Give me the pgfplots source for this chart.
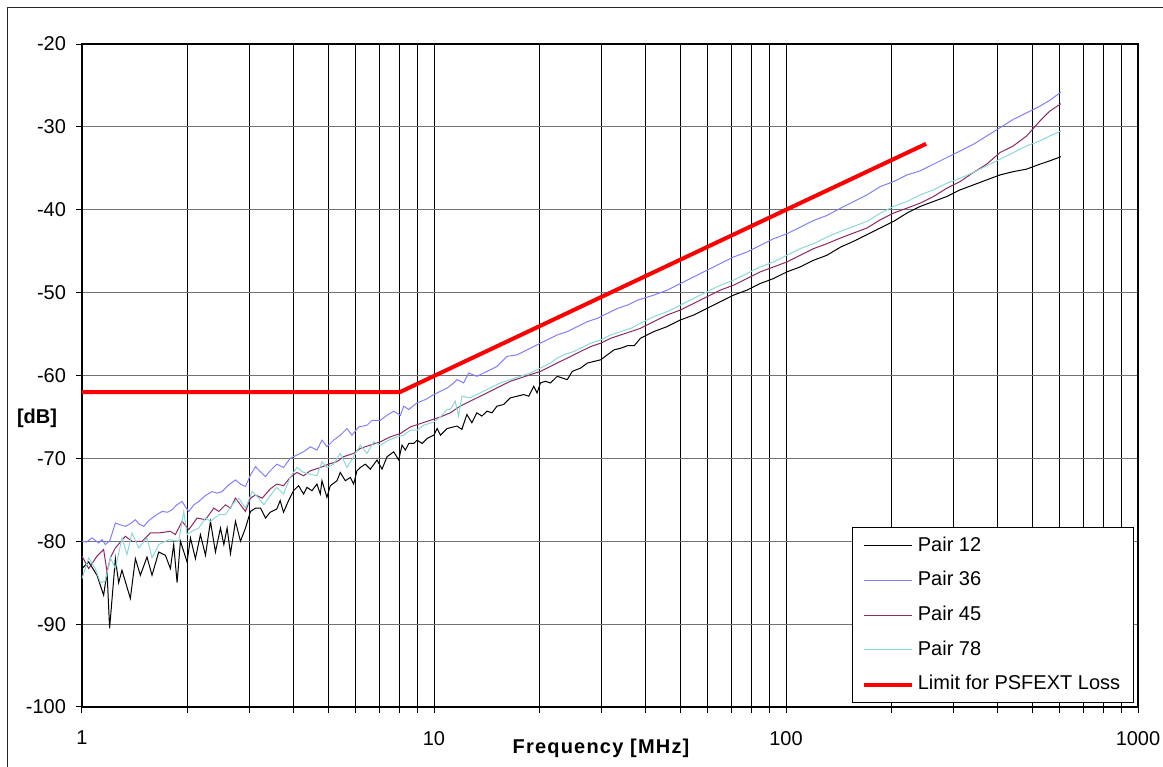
\documentclass[border=0pt]{standalone}
\usepackage{fontspec}
\setmainfont{Liberation Sans}
\newfontfamily\spacedbold[LetterSpace=6,BoldFont={Liberation Sans Bold}]{Liberation Sans}
\usepackage{pgfplots}
\pgfplotsset{compat=1.18}
\definecolor{c12}{RGB}{0,0,0}
\definecolor{c36}{RGB}{128,128,255}
\definecolor{c45}{RGB}{140,40,100}
\definecolor{c78}{RGB}{140,215,215}
\definecolor{climit}{RGB}{255,0,0}
\begin{document}
\begin{tikzpicture}
\begin{axis}[
  at={(0,0)}, anchor=south west,
  scale only axis, width=792pt, height=497.25pt,
  xmode=log, xmin=1, xmax=1000, ymin=-100, ymax=-20,
  xtick={1,10,100,1000}, xticklabels={1,10,100,1000},
  ytick={-100,-90,...,-20},
  /pgf/number format/assume math mode=true,
  font=\fontsize{15}{18}\selectfont,
  tick label style={font=\fontsize{15}{18}\selectfont},
  xticklabel style={yshift=-10pt},
  yticklabel style={xshift=-4pt},
  tick align=outside, tick pos=left,
  major tick length=4.5pt, minor tick length=4.5pt,
  every tick/.style={black, line width=0.75pt},
  axis line style={black, line width=0.9pt},
  xmajorgrids, xminorgrids, ymajorgrids,
  grid style={line width=0.75pt},
  x grid style={black},
  y grid style={black!55},
  xlabel={\spacedbold\bfseries Frequency [MHz]},
  xlabel style={at={(axis description cs:0.4915,-0.0625)}, anchor=center},
  ylabel={\bfseries [dB]},
  ylabel style={rotate=-90, at={(axis description cs:-0.0426,0.436)}, anchor=center},
  legend cell align=left,
  legend image code/.code={\draw[#1] (0pt,0pt) -- (36pt,0pt);},
  legend style={at={(rel axis cs:0.9962,0.006)}, anchor=south east,
    draw=black, line width=0.75pt, fill=white,
    font=\fontsize{15}{18}\selectfont,
    row sep=6pt, inner xsep=7pt, inner ysep=3.5pt,
    nodes={inner sep=3pt, text height=11pt, text depth=3pt}},
]
% Pair 12
\addplot[c12, line width=0.75pt] table {
1.000 -83.3
1.045 -82.5
1.103 -84.1
1.152 -86.5
1.178 -83.7
1.198 -90.5
1.244 -82.1
1.271 -85.0
1.299 -83.5
1.372 -86.9
1.418 -82.1
1.465 -84.1
1.530 -81.9
1.581 -84.1
1.652 -81.3
1.726 -81.7
1.783 -83.3
1.822 -80.4
1.863 -85.0
1.904 -80.0
1.989 -82.5
2.033 -79.6
2.100 -82.1
2.170 -79.2
2.243 -81.7
2.317 -77.6
2.394 -81.3
2.474 -78.4
2.529 -80.4
2.584 -78.4
2.641 -81.5
2.729 -77.6
2.820 -80.0
2.914 -78.4
3.011 -76.4
3.112 -76.0
3.215 -76.0
3.322 -77.2
3.424 -76.5
3.577 -76.1
3.656 -75.1
3.737 -76.5
3.862 -75.1
3.990 -73.9
4.124 -73.3
4.261 -74.3
4.355 -73.5
4.500 -73.9
4.650 -73.1
4.753 -74.3
4.805 -72.7
4.965 -74.7
5.074 -73.3
5.300 -72.7
5.417 -71.7
5.598 -72.7
5.784 -72.3
5.912 -73.1
6.042 -71.5
6.176 -71.1
6.382 -70.7
6.594 -71.3
6.889 -70.2
7.118 -71.3
7.356 -69.8
7.684 -69.2
7.940 -70.2
8.114 -68.4
8.293 -69.0
8.477 -68.2
8.759 -68.2
8.953 -67.8
9.251 -68.2
9.559 -67.6
9.986 -67.2
10.206 -66.4
10.432 -67.2
10.897 -66.4
11.125 -66.3
11.62 -66.1
12.00 -66.5
12.40 -64.7
12.81 -65.7
13.24 -64.5
13.68 -64.9
14.14 -64.3
14.61 -64.5
15.10 -63.7
15.77 -63.5
16.47 -62.7
17.22 -62.5
17.99 -62.3
18.59 -62.5
19.21 -61.3
19.63 -62.1
20.06 -60.9
20.73 -60.7
21.42 -60.9
22.39 -60.1
23.13 -60.3
23.91 -60.5
24.71 -59.5
26.10 -59.1
27.27 -58.5
28.49 -58.3
29.77 -58.1
31.10 -57.5
32.50 -56.9
33.96 -56.7
35.48 -56.4
37.08 -56.4
38.61 -55.5
42.12 -54.7
45.95 -54.1
50.12 -53.3
54.68 -52.7
59.65 -51.9
65.07 -51.1
70.99 -50.3
77.44 -49.7
84.48 -48.9
92.16 -48.3
100.54 -47.5
109.68 -46.9
119.65 -46.1
130.53 -45.5
143.0 -44.5
155.8 -43.8
170.0 -43.0
185.4 -42.2
202.2 -41.4
220.6 -40.4
240.6 -39.6
262.5 -39.0
286.3 -38.4
312.4 -37.6
340.7 -37.0
371.7 -36.4
405.4 -35.8
442.3 -35.4
482.5 -35.1
526.3 -34.5
561.4 -34.1
604.0 -33.6
};
\addlegendentry{Pair 12}
% Pair 36
\addplot[c36, line width=0.75pt] table {
1.000 -80.0
1.030 -80.1
1.068 -79.6
1.090 -79.9
1.116 -80.2
1.140 -79.8
1.165 -80.4
1.200 -79.9
1.244 -77.8
1.280 -78.0
1.328 -78.2
1.370 -77.9
1.418 -77.4
1.450 -77.9
1.498 -78.2
1.540 -77.6
1.581 -77.2
1.630 -76.8
1.689 -76.4
1.750 -76.5
1.803 -76.2
1.860 -75.6
1.925 -75.2
1.970 -75.9
2.011 -76.4
2.080 -75.6
2.147 -75.2
2.240 -74.5
2.344 -74.0
2.420 -74.2
2.501 -74.0
2.610 -73.2
2.729 -72.6
2.820 -73.1
2.914 -73.4
3.011 -72.0
3.112 -71.0
3.210 -71.6
3.322 -72.2
3.424 -71.5
3.577 -70.7
3.737 -71.1
3.904 -70.0
4.078 -69.6
4.261 -69.2
4.451 -68.6
4.650 -69.0
4.805 -67.8
4.965 -68.6
5.186 -67.8
5.417 -67.2
5.659 -66.4
5.847 -67.2
6.109 -66.2
6.452 -66.0
6.667 -65.4
7.041 -65.4
7.356 -64.8
7.684 -64.3
8.027 -64.8
8.204 -63.7
8.477 -64.1
8.953 -63.3
9.455 -62.9
9.986 -62.3
10.432 -61.9
10.897 -61.5
11.38 -60.9
11.62 -60.5
12.14 -60.9
12.54 -59.7
13.24 -60.1
14.14 -59.5
15.10 -58.9
16.12 -57.7
17.22 -57.5
18.38 -56.9
19.63 -56.3
20.96 -55.7
22.39 -55.1
23.91 -54.7
25.53 -54.1
27.27 -53.5
29.12 -53.1
31.10 -52.5
33.22 -51.9
35.48 -51.5
37.90 -50.9
42.12 -50.3
45.95 -49.7
50.12 -48.9
54.68 -48.1
59.65 -47.3
65.07 -46.5
70.99 -45.7
77.44 -45.1
84.48 -44.3
92.16 -43.5
100.54 -42.9
109.68 -42.1
119.65 -41.3
130.53 -40.7
143.0 -39.8
155.8 -39.0
170.0 -38.2
185.4 -37.2
202.2 -36.6
220.6 -35.8
240.6 -35.3
262.5 -34.5
286.3 -33.7
312.4 -32.9
340.7 -32.1
371.7 -31.1
405.4 -30.1
442.3 -29.1
482.5 -28.3
526.3 -27.5
561.4 -26.8
604.0 -25.8
};
\addlegendentry{Pair 36}
% Pair 45
\addplot[c45, line width=0.75pt] table {
1.000 -81.8
1.045 -83.3
1.103 -81.8
1.152 -81.0
1.178 -83.7
1.204 -82.0
1.244 -80.8
1.328 -79.4
1.387 -80.0
1.481 -80.0
1.564 -79.0
1.652 -79.0
1.783 -78.8
1.842 -79.2
1.925 -77.6
2.011 -78.6
2.123 -77.2
2.243 -77.4
2.368 -76.0
2.447 -76.4
2.556 -75.6
2.641 -76.0
2.729 -74.8
2.820 -75.6
2.914 -76.4
3.011 -74.8
3.112 -74.4
3.250 -74.8
3.424 -73.7
3.577 -73.1
3.737 -73.3
3.904 -72.3
4.078 -71.7
4.261 -72.1
4.451 -71.5
4.753 -71.1
5.019 -70.7
5.300 -70.4
5.537 -69.8
5.912 -69.4
6.176 -68.8
6.594 -68.4
7.041 -68.0
7.518 -67.4
8.027 -67.0
8.570 -66.2
9.151 -65.8
9.770 -65.4
10.432 -65.0
11.125 -64.5
11.87 -63.7
12.67 -63.1
13.53 -62.5
14.45 -61.9
15.43 -61.3
16.47 -60.7
17.60 -60.3
18.79 -59.9
20.06 -59.5
21.42 -58.9
22.88 -58.3
24.44 -57.7
26.10 -57.1
27.87 -56.5
29.77 -56.1
31.80 -55.5
33.96 -55.1
36.27 -54.7
38.61 -54.3
42.12 -53.5
45.95 -52.7
50.12 -52.1
54.68 -51.3
59.65 -50.5
65.07 -49.7
70.99 -49.1
77.44 -48.3
84.48 -47.5
92.16 -46.9
100.54 -46.3
109.68 -45.5
119.65 -44.7
130.53 -44.1
143.0 -43.4
155.8 -42.8
170.0 -42.2
185.4 -41.2
202.2 -40.4
220.6 -39.8
240.6 -39.2
262.5 -38.4
286.3 -37.4
312.4 -36.6
340.7 -35.5
371.7 -34.5
405.4 -33.1
442.3 -32.3
482.5 -31.1
526.3 -29.3
561.4 -28.1
604.0 -27.2
};
\addlegendentry{Pair 45}
% Pair 78
\addplot[c78, line width=0.75pt] table {
1.000 -84.5
1.045 -82.0
1.091 -83.3
1.128 -85.0
1.165 -84.8
1.204 -82.0
1.244 -83.3
1.299 -79.6
1.342 -81.6
1.387 -79.0
1.449 -80.8
1.530 -79.6
1.581 -82.0
1.652 -80.4
1.764 -79.8
1.883 -80.0
1.946 -76.4
1.989 -79.2
2.056 -78.8
2.147 -78.4
2.243 -77.2
2.317 -77.6
2.447 -76.8
2.556 -76.8
2.670 -75.6
2.790 -74.8
2.914 -76.0
3.044 -74.0
3.180 -74.8
3.286 -75.6
3.424 -74.5
3.577 -73.5
3.737 -74.3
3.904 -72.3
4.078 -71.1
4.261 -71.7
4.451 -71.9
4.650 -72.1
4.805 -70.4
4.965 -71.1
5.186 -70.7
5.417 -69.4
5.659 -71.1
5.912 -69.8
6.176 -68.4
6.452 -69.4
6.740 -68.0
7.041 -68.4
7.437 -67.8
7.854 -67.4
8.204 -67.2
8.570 -66.6
8.953 -66.6
9.353 -66.0
9.986 -65.6
10.432 -65.0
10.897 -64.1
11.125 -64.1
11.49 -63.1
11.74 -64.9
12.00 -62.5
12.67 -62.7
13.53 -62.1
14.45 -61.5
15.43 -60.9
16.47 -60.5
17.60 -60.1
18.79 -59.7
20.06 -59.1
21.42 -58.5
22.39 -57.9
23.39 -57.5
24.98 -57.1
26.68 -56.5
27.87 -56.1
29.77 -55.7
31.80 -55.1
33.96 -54.7
36.27 -54.3
38.61 -53.7
42.12 -52.9
45.95 -52.3
50.12 -51.5
54.68 -50.7
59.65 -49.9
65.07 -49.1
70.99 -48.5
77.44 -47.7
84.48 -46.9
92.16 -46.3
100.54 -45.5
109.68 -44.7
119.65 -44.1
130.53 -43.3
143.0 -42.6
155.8 -42.0
170.0 -41.4
185.4 -40.4
202.2 -39.6
220.6 -39.0
240.6 -38.2
262.5 -37.6
286.3 -36.8
312.4 -36.2
340.7 -35.5
371.7 -34.7
405.4 -33.9
442.3 -33.1
482.5 -32.3
526.3 -31.7
561.4 -31.1
604.0 -30.5
};
\addlegendentry{Pair 78}
% Limit
\addplot[climit, line width=3pt, line join=round] table {
1 -62
8 -62
100 -40
150 -36.48
175 -35.14
250 -32.04
};
\addlegendentry{Limit for PSFEXT Loss}
\end{axis}
\draw[black!85, line width=0.75pt] (-55.5pt,-80pt) rectangle (850pt,524.25pt);
\pgfresetboundingbox
\path[use as bounding box] (-61.5pt,-45pt) rectangle (810.75pt,530.25pt);
\end{tikzpicture}
\end{document}
